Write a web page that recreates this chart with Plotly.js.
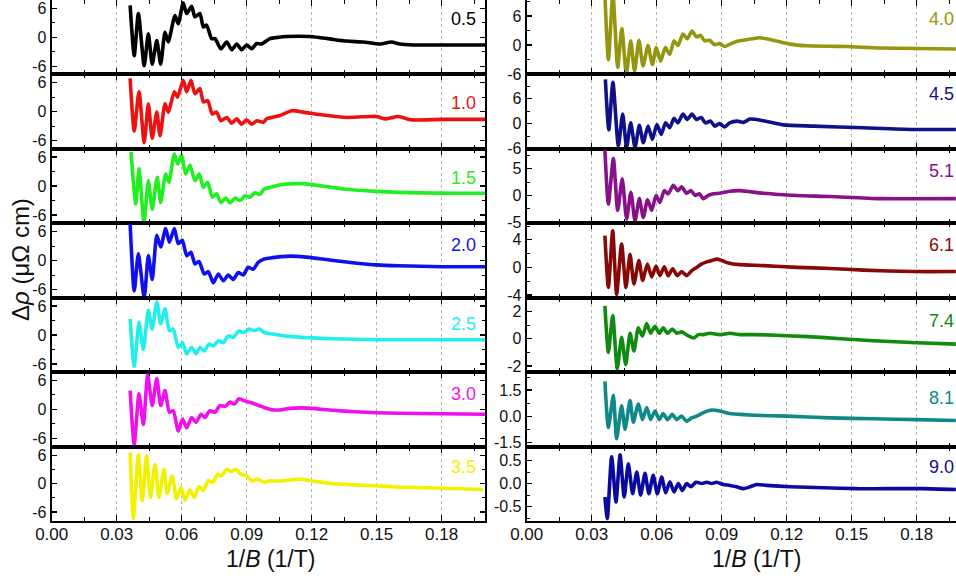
<!DOCTYPE html>
<html>
<head>
<meta charset="utf-8">
<script src="https://cdn.plot.ly/plotly-3.0.1.min.js"></script>
<style>
html,body{margin:0;padding:0;background:#fff;overflow:hidden;}
#chart{width:956px;height:581px;}
</style>
</head>
<body>
<div id="chart"></div>
<script>
// ---------------- DATA ----------------
const xTickVals = [0, 0.03, 0.06, 0.09, 0.12, 0.15, 0.18];
const xTickText = ['0.00', '0.03', '0.06', '0.09', '0.12', '0.15', '0.18'];

const pressureLabels = ['0.5', '1.0', '1.5', '2.0', '2.5', '3.0', '3.5',
                        '4.0', '4.5', '5.1', '6.1', '7.4', '8.1', '9.0'];

// y tick values / labels per panel
const yTickVals = [
  [-6, 0, 6], [-6, 0, 6], [-6, 0, 6], [-6, 0, 6], [-6, 0, 6], [-6, 0, 6], [-6, 0, 6],
  [-6, 0, 6], [-6, 0, 6], [-5, 0, 5], [-4, 0, 4], [-2, 0, 2], [-1.5, 0, 1.5], [-0.5, 0, 0.5]
];
const yTickText = [
  ['-6', '0', '6'], ['-6', '0', '6'], ['-6', '0', '6'], ['-6', '0', '6'], ['-6', '0', '6'], ['-6', '0', '6'], ['-6', '0', '6'],
  ['-6', '0', '6'], ['-6', '0', '6'], ['-5', '0', '5'], ['-4', '0', '4'], ['-2', '0', '2'], ['-1.5', '0.0', '1.5'], ['-0.5', '0.0', '0.5']
];

// 0.5
const x05 = [0.0362,0.0381,0.0400,0.0427,0.0446,0.0464,0.0485,0.0503,0.0523,0.0538,0.0569,0.0584,0.0607,0.0623,0.0646,0.0661,0.0684,0.0700,0.0715,0.0738,0.0754,0.0781,0.0808,0.0831,0.0854,0.0877,0.0900,0.0923,0.0946,0.0969,0.1007,0.1050,0.1085,0.1140,0.1192,0.1240,0.1284,0.1361,0.1438,0.1515,0.1569,0.1607,0.1668,0.1800,0.2000];
const y05 = [6.6,-3.8,4.9,-5.9,0.7,-5.6,-0.7,-5.6,1.0,-1.0,4.5,2.8,7.1,4.9,6.4,4.2,4.9,2.1,2.5,-0.3,-0.3,-2.4,-1.0,-2.6,-1.4,-2.6,-1.6,-2.4,-1.3,-1.4,-0.3,0.0,0.15,0.2,0.15,-0.1,-0.35,-0.8,-1.0,-1.4,-1.0,-1.4,-1.6,-1.6,-1.6];
// 1.0
const x10 = [0.0362,0.0381,0.0403,0.0427,0.0446,0.0464,0.0485,0.0500,0.0523,0.0538,0.0566,0.0581,0.0607,0.0623,0.0643,0.0661,0.0684,0.0700,0.0720,0.0741,0.0761,0.0781,0.0808,0.0831,0.0854,0.0877,0.0900,0.0923,0.0946,0.0977,0.0992,0.1054,0.1108,0.1161,0.1254,0.1361,0.1469,0.1500,0.1538,0.1600,0.1661,0.1800,0.2000];
const y10 = [6.9,-4.0,4.1,-6.4,1.6,-5.5,-0.1,-5.0,1.6,-0.1,4.1,3.0,6.5,4.1,6.5,3.7,4.8,2.0,2.3,-0.5,-0.1,-1.9,-1.2,-2.4,-1.5,-2.6,-1.7,-2.6,-1.9,-2.2,-1.5,-0.8,0.2,-0.1,-0.7,-1.2,-1.0,-1.0,-1.5,-1.0,-1.7,-1.6,-1.6];
// 1.5
const x15 = [0.0366,0.0388,0.0403,0.0426,0.0446,0.0464,0.0487,0.0503,0.0526,0.0541,0.0566,0.0581,0.0600,0.0618,0.0638,0.0661,0.0681,0.0700,0.0720,0.0741,0.0761,0.0781,0.0804,0.0823,0.0846,0.0870,0.0892,0.0915,0.0938,0.0961,0.0981,0.1008,0.1040,0.1080,0.1120,0.1160,0.1200,0.1250,0.1300,0.1350,0.1400,0.1500,0.1600,0.1700,0.1800,0.1900,0.2000];
const y15 = [7.1,-3.7,3.6,-7.6,1.1,-4.8,1.8,-3.4,2.5,0.8,6.7,4.6,6.4,2.5,4.3,1.1,2.5,-0.3,0.8,-2.3,-1.6,-3.4,-2.5,-3.5,-2.5,-3.0,-2.0,-2.3,-1.4,-1.7,-0.6,-0.3,0.1,0.4,0.5,0.5,0.3,0.0,-0.3,-0.6,-0.8,-1.1,-1.3,-1.4,-1.45,-1.5,-1.5];
// 2.0
const x20 = [0.0362,0.0381,0.0400,0.0427,0.0446,0.0464,0.0485,0.0503,0.0526,0.0543,0.0566,0.0584,0.0603,0.0623,0.0643,0.0661,0.0680,0.0704,0.0723,0.0746,0.0769,0.0792,0.0815,0.0838,0.0861,0.0884,0.0907,0.0930,0.0953,0.0981,0.1020,0.1060,0.1100,0.1150,0.1200,0.1250,0.1300,0.1400,0.1500,0.1600,0.1700,0.1800,0.2000];
const y20 = [7.6,-6.3,1.4,-7.7,1.0,-3.9,5.2,2.8,6.6,3.8,6.6,3.5,4.2,1.0,1.7,-0.7,-0.2,-2.8,-2.3,-4.6,-2.8,-4.2,-3.0,-3.9,-2.5,-3.0,-1.4,-1.8,-0.4,0.3,0.6,0.8,0.9,0.8,0.6,0.3,0.0,-0.5,-0.9,-1.1,-1.2,-1.3,-1.3];
// 2.5
const x25 = [0.0362,0.0381,0.0403,0.0423,0.0446,0.0464,0.0485,0.0503,0.0523,0.0543,0.0561,0.0584,0.0604,0.0623,0.0646,0.0666,0.0684,0.0704,0.0726,0.0746,0.0769,0.0792,0.0815,0.0838,0.0864,0.0887,0.0911,0.0935,0.0960,0.0981,0.1020,0.1060,0.1100,0.1150,0.1200,0.1300,0.1400,0.1500,0.1600,0.1800,0.2000];
const y25 = [3.3,-6.5,2.6,-3.0,5.1,1.2,6.8,2.3,5.4,0.9,1.2,-2.6,-1.6,-3.9,-2.6,-3.9,-2.6,-3.3,-1.9,-2.3,-1.2,-1.6,-0.2,-0.5,0.8,0.5,1.2,0.9,1.2,0.5,0.2,-0.1,-0.3,-0.5,-0.6,-0.8,-0.9,-1.0,-1.0,-1.0,-1.0];
// 3.0
const x30 = [0.0362,0.0381,0.0403,0.0423,0.0443,0.0464,0.0485,0.0503,0.0523,0.0543,0.0561,0.0584,0.0604,0.0623,0.0646,0.0666,0.0689,0.0707,0.0730,0.0754,0.0777,0.0800,0.0823,0.0843,0.0864,0.0889,0.0912,0.0938,0.0981,0.1020,0.1060,0.1100,0.1150,0.1200,0.1300,0.1400,0.1500,0.1600,0.1800,0.2000];
const y30 = [3.9,-7.3,3.2,-3.1,7.1,0.8,6.4,0.8,3.9,-0.6,-0.3,-4.5,-2.0,-3.8,-1.7,-2.7,-1.0,-1.7,-0.3,-0.6,0.8,0.6,1.5,1.1,2.2,1.8,1.5,1.1,0.4,-0.1,-0.1,0.2,0.3,0.2,-0.2,-0.5,-0.7,-0.8,-0.9,-1.0];
// 3.5
const x35 = [0.0362,0.0377,0.0400,0.0418,0.0438,0.0456,0.0477,0.0495,0.0518,0.0533,0.0556,0.0576,0.0597,0.0615,0.0638,0.0658,0.0680,0.0700,0.0723,0.0743,0.0766,0.0784,0.0808,0.0831,0.0849,0.0874,0.0900,0.0923,0.0950,0.0981,0.1000,0.1050,0.1100,0.1146,0.1190,0.1250,0.1300,0.1380,0.1454,0.1530,0.1607,0.1680,0.1760,0.1850,0.1990];
const y35 = [6.6,-7.4,6.2,-3.6,5.9,-2.9,4.1,-2.9,3.1,-2.1,1.7,-3.2,-0.7,-3.5,-1.3,-2.9,-0.6,-1.4,0.7,0.3,2.0,1.7,3.1,2.6,3.1,2.0,1.7,0.6,1.0,0.3,0.6,0.6,0.8,1.0,0.7,0.3,0.0,-0.2,-0.35,-0.5,-0.7,-0.8,-0.9,-1.0,-1.2];
// 4.0
const x40 = [0.0361,0.0377,0.0398,0.0420,0.0439,0.0460,0.0480,0.0498,0.0518,0.0537,0.0560,0.0580,0.0598,0.0618,0.0640,0.0660,0.0680,0.0698,0.0721,0.0741,0.0763,0.0783,0.0803,0.0821,0.0844,0.0867,0.0890,0.0914,0.0938,0.0972,0.1000,0.1040,0.1077,0.1138,0.1215,0.1292,0.1400,0.1477,0.1630,0.1800,0.1981];
const y40 = [10.5,-3.0,10.5,-4.6,3.4,-6.0,0.9,-5.4,1.0,-4.3,-0.1,-4.0,-0.5,-3.3,-0.5,-1.9,0.9,-0.1,2.3,1.3,2.9,1.7,2.0,0.9,1.0,0.1,0.3,-0.3,0.2,0.8,1.0,1.3,1.5,1.0,0.2,-0.15,-0.25,-0.3,-0.6,-0.7,-0.8];
// 4.5
const x45 = [0.0363,0.0379,0.0398,0.0423,0.0443,0.0461,0.0480,0.0500,0.0520,0.0538,0.0560,0.0580,0.0601,0.0621,0.0641,0.0660,0.0680,0.0698,0.0721,0.0741,0.0763,0.0783,0.0806,0.0824,0.0849,0.0867,0.0890,0.0914,0.0937,0.0972,0.1000,0.1031,0.1092,0.1184,0.1323,0.1553,0.1784,0.1981];
const y45 = [10.7,-1.5,10.0,-5.4,2.3,-5.8,0.2,-5.8,-0.4,-4.6,-0.6,-3.8,-0.2,-2.6,0.2,-1.0,1.3,0.2,2.3,1.0,2.3,1.0,1.5,0.2,0.6,-0.6,0.0,-0.8,0.2,0.6,0.3,1.1,0.7,-0.3,-0.6,-1.0,-1.4,-1.4];
// 5.1
const x51 = [0.0361,0.0377,0.0400,0.0420,0.0441,0.0461,0.0481,0.0500,0.0520,0.0538,0.0558,0.0577,0.0597,0.0615,0.0635,0.0653,0.0677,0.0697,0.0715,0.0738,0.0758,0.0777,0.0797,0.0815,0.0838,0.0861,0.0890,0.0938,0.0984,0.1092,0.1246,0.1400,0.1630,0.1981];
const y51 = [8.5,-1.6,6.9,-2.8,3.1,-4.4,0.6,-4.8,-0.6,-4.1,-0.8,-2.8,0.0,-1.3,0.9,0.3,1.9,0.9,1.6,0.4,0.9,0.0,0.3,-0.6,0.0,0.3,0.4,0.8,0.9,0.4,0.0,-0.2,-0.6,-0.6];
// 6.1
const x61 = [0.0361,0.0377,0.0397,0.0415,0.0438,0.0458,0.0477,0.0495,0.0518,0.0535,0.0557,0.0577,0.0597,0.0615,0.0635,0.0653,0.0674,0.0695,0.0715,0.0738,0.0761,0.0785,0.0808,0.0831,0.0854,0.0877,0.0900,0.0923,0.0953,0.0984,0.1092,0.1246,0.1400,0.1553,0.1784,0.1981];
const y61 = [4.6,-2.9,5.3,-3.9,3.4,-2.9,1.9,-2.4,1.0,-1.9,0.5,-1.4,0.2,-1.2,0.1,-1.2,-0.2,-1.2,-0.6,-1.2,-0.5,0.0,0.5,0.8,1.0,1.2,1.0,0.7,0.5,0.4,0.25,0.0,-0.15,-0.4,-0.6,-0.6];
// 7.4
const x74 = [0.0361,0.0377,0.0397,0.0418,0.0438,0.0457,0.0477,0.0495,0.0515,0.0534,0.0554,0.0572,0.0592,0.0612,0.0630,0.0650,0.0672,0.0692,0.0715,0.0746,0.0772,0.0792,0.0815,0.0846,0.0892,0.0938,0.0984,0.1050,0.1150,0.1300,0.1450,0.1600,0.1800,0.1981];
const y74 = [2.4,-1.0,1.7,-2.2,0.1,-1.9,0.4,-0.9,0.8,0.2,1.1,0.4,0.9,0.4,0.8,0.4,0.7,0.4,0.5,0.2,0.05,0.3,0.3,0.4,0.3,0.4,0.3,0.3,0.25,0.15,0.0,-0.15,-0.3,-0.4];
// 8.1
const x81 = [0.0361,0.0377,0.0400,0.0415,0.0438,0.0454,0.0477,0.0492,0.0515,0.0534,0.0554,0.0572,0.0592,0.0612,0.0630,0.0650,0.0672,0.0692,0.0715,0.0738,0.0761,0.0785,0.0815,0.0854,0.0892,0.0938,0.0984,0.1050,0.1200,0.1400,0.1600,0.1800,0.1981];
const y81 = [2.0,-0.65,1.2,-1.3,0.6,-0.75,0.9,-0.35,0.7,-0.2,0.5,-0.2,0.3,-0.2,0.15,-0.2,0.1,-0.2,0.0,-0.3,-0.1,0.0,0.2,0.35,0.3,0.15,0.1,0.05,0.0,-0.1,-0.15,-0.2,-0.25];
// 9.0
const x90 = [0.0361,0.0372,0.0392,0.0412,0.0431,0.0450,0.0469,0.0489,0.0508,0.0526,0.0546,0.0564,0.0584,0.0603,0.0623,0.0641,0.0661,0.0680,0.0700,0.0718,0.0738,0.0758,0.0781,0.0808,0.0831,0.0854,0.0877,0.0907,0.0938,0.0969,0.1000,0.1031,0.1061,0.1108,0.1215,0.1369,0.1523,0.1677,0.1830,0.1981];
const y90 = [-0.29,-0.76,0.58,-0.4,0.62,-0.29,0.43,-0.22,0.25,-0.25,0.22,-0.22,0.18,-0.22,0.14,-0.2,0.04,-0.18,0.0,-0.15,0.0,-0.07,0.03,0.0,0.03,0.0,0.03,-0.02,-0.04,-0.07,-0.11,-0.07,-0.02,-0.04,-0.07,-0.09,-0.11,-0.11,-0.11,-0.13];

const seriesX = [x05, x10, x15, x20, x25, x30, x35, x40, x45, x51, x61, x74, x81, x90];
const seriesY = [y05, y10, y15, y20, y25, y30, y35, y40, y45, y51, y61, y74, y81, y90];

// ---------------- STYLE / LAYOUT ----------------
const colors = ['#000000', '#ee1111', '#22ee22', '#1010ee', '#22eeee', '#ee11ee', '#f2f200',
                '#959510', '#10108a', '#881088', '#880808', '#108a10', '#108888', '#0a0aa0'];
const yRanges = [
  [-7.7, 7.7], [-7.7, 7.7], [-7.7, 7.7], [-7.7, 7.7], [-7.7, 7.7], [-7.7, 7.7], [-7.9, 7.9],
  [-6.05, 9.3], [-6.1, 11.9], [-5.2, 8.7], [-4.4, 6.4], [-2.45, 3.0], [-1.75, 2.53], [-0.81, 0.8]
];
const yMinor = [3, 3, 3, 3, 3, 3, 3, 3, 3, 2.5, 2, 1, 0.75, 0.25];
const labelOffsetPx = [19, 29, 29, 22, 26, 22, 20, 19, 20, 22, 22, 23, 26, 20];

const W = 956, H = 581;
const panelH = 74.43;
const FONT = 'Liberation Sans, Arial, Helvetica, sans-serif';
const colDomains = [[51.7 / W, 485 / W], [526.7 / W, 1]];
const colXRange = [[0, 0.2], [0, 0.19815]];

const data = [];
const layout = {
  width: W, height: H,
  margin: {l: 0, r: 0, t: 0, b: 0},
  paper_bgcolor: '#ffffff', plot_bgcolor: '#ffffff',
  showlegend: false,
  font: {family: FONT, color: '#000'},
  annotations: []
};

for (let i = 0; i < 14; i++) {
  const col = i < 7 ? 0 : 1;
  const k = i % 7;
  const n = i + 1;
  const xa = n === 1 ? 'x' : 'x' + n;
  const ya = n === 1 ? 'y' : 'y' + n;
  const top = 1 - (panelH * k) / H;
  const bot = 1 - (panelH * (k + 1)) / H;

  data.push({
    type: 'scatter', mode: 'lines',
    x: seriesX[i], y: seriesY[i],
    xaxis: xa, yaxis: ya,
    line: {color: colors[i], width: 3.6, shape: 'spline', smoothing: 0.6},
    hoverinfo: 'skip'
  });

  layout['xaxis' + (n === 1 ? '' : n)] = {
    domain: colDomains[col],
    anchor: ya,
    range: colXRange[col],
    tickmode: 'array', tickvals: xTickVals, ticktext: xTickText,
    showticklabels: k === 6,
    ticklabelstandoff: -3,
    tickfont: {family: FONT, size: 17, color: '#111'},
    ticks: 'inside', ticklen: 6, tickwidth: 1.5, tickcolor: '#000',
    minor: {tickmode: 'linear', tick0: 0, dtick: 0.015, ticks: 'inside', ticklen: 4, tickwidth: 1.2, tickcolor: '#000', showgrid: false},
    showline: true, linecolor: '#000', linewidth: 2, mirror: 'allticks',
    showgrid: true, gridcolor: '#b4b4b4', gridwidth: 1, griddash: 'dot',
    zeroline: false, fixedrange: true
  };
  layout['yaxis' + (n === 1 ? '' : n)] = {
    domain: [bot, top],
    anchor: xa,
    range: yRanges[i],
    tickmode: 'array', tickvals: yTickVals[i], ticktext: yTickText[i],
    ticklabeloverflow: 'allow',
    tickfont: {family: FONT, size: 16, color: '#111'},
    ticks: 'inside', ticklen: 5, tickwidth: 1.2, tickcolor: '#000',
    minor: {tickmode: 'linear', tick0: 0, dtick: yMinor[i], ticks: 'inside', ticklen: 3, tickwidth: 1, tickcolor: '#000', showgrid: false},
    showline: true, linecolor: '#000', linewidth: 2, mirror: col === 0 ? 'allticks' : false,
    showgrid: false, zeroline: false, fixedrange: true
  };

  layout.annotations.push({
    text: pressureLabels[i],
    xref: xa + ' domain', yref: ya + ' domain',
    x: col === 0 ? 0.984 : 1.0, xanchor: 'right',
    y: 1 - labelOffsetPx[i] / panelH, yanchor: 'middle',
    showarrow: false,
    font: {family: FONT, size: 18, color: colors[i]}
  });
}

// axis titles
layout.annotations.push({
  text: '1/<i>B</i> (1/T)', xref: 'paper', yref: 'paper',
  x: 270 / W, y: 1 - 559 / H, xanchor: 'center', yanchor: 'middle',
  showarrow: false, font: {family: FONT, size: 23, color: '#111'}
});
layout.annotations.push({
  text: '1/<i>B</i> (1/T)', xref: 'paper', yref: 'paper',
  x: 756 / W, y: 1 - 559 / H, xanchor: 'center', yanchor: 'middle',
  showarrow: false, font: {family: FONT, size: 23, color: '#111'}
});
layout.annotations.push({
  text: '\u0394<i>\u03c1</i> (\u03bc\u03a9 cm)', xref: 'paper', yref: 'paper',
  x: 20 / W, y: 1 - 260 / H, xanchor: 'center', yanchor: 'middle', textangle: -90,
  showarrow: false, font: {family: FONT, size: 24, color: '#111'}
});

Plotly.newPlot('chart', data, layout, {staticPlot: true, displayModeBar: false});
</script>
</body>
</html>
